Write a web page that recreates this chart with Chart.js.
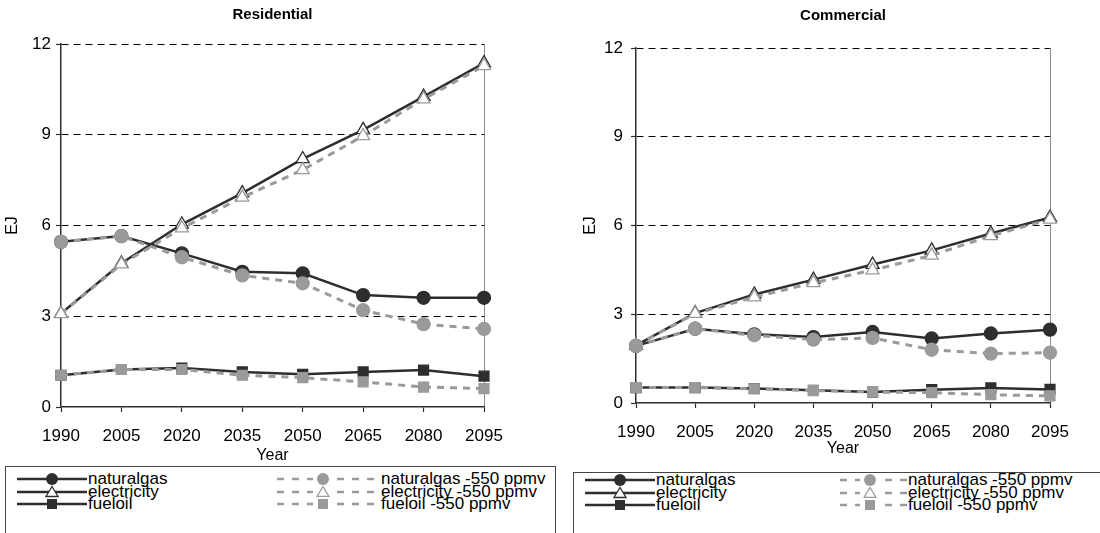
<!DOCTYPE html>
<html><head><meta charset="utf-8">
<script src="https://cdn.jsdelivr.net/npm/chart.js@4.4.1/dist/chart.umd.min.js"></script>
<style>
html,body{margin:0;padding:0;background:#fff;}
body{width:1100px;height:533px;overflow:hidden;position:relative;font-family:"Liberation Sans",Arial,sans-serif;color:#000;}
canvas{position:absolute;top:0;}
#cRes{left:0;}
#cCom{left:560px;}
.lbox{position:absolute;border:1px solid #444;background:#fff;box-sizing:border-box;}
.row{position:absolute;height:14px;font-size:17px;line-height:14px;white-space:nowrap;}
.row svg{position:absolute;top:0;}
.row span{position:absolute;top:0px;}
</style>
</head><body>
<canvas id="cRes" width="550" height="466"></canvas>
<canvas id="cCom" width="540" height="460"></canvas>
<div id="legRes" class="lbox" style="left:5px;top:466px;width:551px;height:80px;"></div>
<div id="legCom" class="lbox" style="left:573px;top:472px;width:560px;height:80px;"></div>
<script>
// ---- data ----
const years = ['1990','2005','2020','2035','2050','2065','2080','2095'];
const yTickValues = [0, 3, 6, 9, 12];
const seriesNames = ['naturalgas','electricity','fueloil'];
const scenarioSuffix = ' -550 ppmv';

const resNaturalgas     = [5.46, 5.65, 5.08, 4.47, 4.42, 3.70, 3.61, 3.61];
const resNaturalgas550  = [5.46, 5.65, 4.95, 4.35, 4.09, 3.20, 2.74, 2.58];
const resElectricity    = [3.09, 4.75, 6.04, 7.07, 8.20, 9.16, 10.26, 11.37];
const resElectricity550 = [3.08, 4.72, 5.91, 6.93, 7.84, 8.96, 10.18, 11.28];
const resFueloil        = [1.05, 1.24, 1.29, 1.16, 1.08, 1.16, 1.22, 1.02];
const resFueloil550     = [1.05, 1.24, 1.24, 1.05, 0.97, 0.83, 0.66, 0.61];

const comNaturalgas     = [1.93, 2.51, 2.32, 2.23, 2.40, 2.18, 2.35, 2.48];
const comNaturalgas550  = [1.93, 2.51, 2.29, 2.14, 2.20, 1.80, 1.67, 1.70];
const comElectricity    = [1.95, 3.04, 3.67, 4.17, 4.68, 5.16, 5.73, 6.27];
const comElectricity550 = [1.95, 3.02, 3.58, 4.06, 4.49, 4.99, 5.65, 6.21];
const comFueloil        = [0.52, 0.52, 0.49, 0.43, 0.37, 0.45, 0.51, 0.46];
const comFueloil550     = [0.52, 0.52, 0.48, 0.42, 0.37, 0.35, 0.28, 0.24];

// ---- styles ----
const DARK = '#2e2e2e', GRAY = '#9a9a9a', FONT = "'Liberation Sans', Arial, sans-serif";
const markers = {
  naturalgas: {pointStyle:'circle', radius:6.5, darkFill:DARK, grayFill:GRAY},
  electricity:{pointStyle:'triangle', radius:7.5, darkFill:'#ffffff', grayFill:'#ffffff'},
  fueloil:    {pointStyle:'rect', radius:7, darkFill:DARK, grayFill:GRAY}
};

function ds(label, data, key, scenario){
  const m = markers[key];
  const col = scenario ? GRAY : DARK;
  return {
    label: label, data: data,
    borderColor: col, backgroundColor: col,
    borderWidth: scenario ? 3 : 2.5,
    borderDash: scenario ? [7,6] : [],
    pointStyle: m.pointStyle, pointRadius: m.radius, pointHoverRadius: m.radius,
    pointBackgroundColor: scenario ? m.grayFill : m.darkFill,
    pointBorderColor: col, pointBorderWidth: 1.3,
    tension: 0, fill: false,
    order: scenario ? 0 : 1
  };
}

// title centred over the plot area
const plotTitle = {
  id: 'plotTitle',
  afterDraw(chart, args, opts) {
    const {ctx, chartArea} = chart;
    ctx.save();
    ctx.font = `bold ${opts.size}px ${FONT}`;
    ctx.fillStyle = '#000'; ctx.textAlign = 'center'; ctx.textBaseline = 'middle';
    ctx.fillText(opts.text, (chartArea.left + chartArea.right) / 2, opts.y);
    ctx.restore();
  }
};

function makeChart(id, title, sets, cfg){
  return new Chart(document.getElementById(id), {
    type: 'line',
    data: { labels: years, datasets: [
      ds(seriesNames[0], sets[0], 'naturalgas', false),
      ds(seriesNames[1], sets[2], 'electricity', false),
      ds(seriesNames[2], sets[4], 'fueloil', false),
      ds(seriesNames[0]+scenarioSuffix, sets[1], 'naturalgas', true),
      ds(seriesNames[1]+scenarioSuffix, sets[3], 'electricity', true),
      ds(seriesNames[2]+scenarioSuffix, sets[5], 'fueloil', true)
    ]},
    plugins: [plotTitle],
    options: {
      responsive: false, animation: false, events: [],
      layout: { padding: { left: 0, right: cfg.padRight, top: cfg.padTop, bottom: 0 } },
      plugins: {
        legend: { display: false }, tooltip: { enabled: false }, title: { display: false },
        plotTitle: { text: title, size: 15, y: cfg.titleY }
      },
      scales: {
        x: {
          offset: false,
          grid: { color: (c) => (c.index === years.length - 1 ? '#8a8a8a' : 'rgba(0,0,0,0)'),
                  lineWidth: 1, drawTicks: true, tickLength: 5, tickColor: DARK, tickWidth: 1.2 },
          border: { display: true, color: DARK, width: 1.5 },
          ticks: { color: '#000', font: { family: FONT, size: 17 }, padding: cfg.xTickPad,
                   maxRotation: 0, autoSkip: false },
          title: { display: true, text: 'Year', color: '#000', font: { family: FONT, size: 16 },
                   padding: { top: 0, bottom: cfg.yearPad } },
          afterFit: (s) => { s.height = cfg.xHeight; }
        },
        y: {
          min: 0, max: 12,
          afterBuildTicks: (s) => { s.ticks = yTickValues.map(v => ({ value: v })); },
          grid: { color: (c) => (c.tick && c.tick.value === 0 ? 'rgba(0,0,0,0)' : '#000'),
                  lineWidth: 1, drawTicks: true, tickLength: 5, tickColor: DARK, tickWidth: 1.2 },
          border: { display: true, color: DARK, width: 1.5, dash: [7,5] },
          ticks: { color: '#000', font: { family: FONT, size: 17 }, padding: cfg.yTickPad,
                   callback: (v) => String(v) },
          title: { display: true, text: 'EJ', color: '#000', font: { family: FONT, size: 16 },
                   padding: { top: cfg.ejPad, bottom: 0 } },
          afterFit: (s) => { s.width = cfg.yWidth; }
        }
      }
    }
  });
}

makeChart('cRes', 'Residential',
  [resNaturalgas, resNaturalgas550, resElectricity, resElectricity550, resFueloil, resFueloil550],
  { padRight: 66, padTop: 44, titleY: 15, xTickPad: 14, yearPad: 1, xHeight: 59, yTickPad: 5, ejPad: 3, yWidth: 61 });
makeChart('cCom', 'Commercial',
  [comNaturalgas, comNaturalgas550, comElectricity, comElectricity550, comFueloil, comFueloil550],
  { padRight: 50, padTop: 48, titleY: 16, xTickPad: 14, yearPad: 2, xHeight: 57, yTickPad: 8, ejPad: 21, yWidth: 76 });

// ---- HTML legend ----
function markerSvg(key, col){
  if (key === 'naturalgas') return `<circle cx="CX" cy="7" r="6" fill="${col}"/>`;
  if (key === 'electricity') return `<polygon points="CX,1.5 CXL,11.5 CXR,11.5" fill="#fff" stroke="${col}" stroke-width="1.3"/>`;
  return `<rect x="CXS" y="2" width="10" height="10" fill="${col}"/>`;
}
function placeMarker(s, cx){
  return s.replace(/CXL/g, cx-6).replace(/CXR/g, cx+6).replace(/CXS/g, cx-5).replace(/CX/g, cx);
}
function buildLegend(id, cols){
  const box = document.getElementById(id);
  seriesNames.forEach((name, i) => {
    const top = cols.rowTop + i * cols.rowGap;
    let r = document.createElement('div'); r.className = 'row';
    r.style.left = cols.c1 + 'px'; r.style.top = top + 'px'; r.style.width = '250px';
    r.innerHTML = `<svg width="${cols.w1}" height="14" style="left:0"><line x1="0" y1="7" x2="${cols.w1}" y2="7" stroke="${DARK}" stroke-width="2.5"/>${placeMarker(markerSvg(name, DARK), cols.w1/2)}</svg><span style="left:${cols.w1+1}px">${name}</span>`;
    box.appendChild(r);
    r = document.createElement('div'); r.className = 'row';
    r.style.left = cols.c2 + 'px'; r.style.top = top + 'px'; r.style.width = '300px';
    const mid = Math.round(cols.w2 * 0.45);
    r.innerHTML = `<svg width="${cols.w2}" height="14" style="left:0"><line x1="0" y1="7" x2="${cols.w2}" y2="7" stroke="${GRAY}" stroke-width="2.5" stroke-dasharray="7,8"/><rect x="${mid-10}" y="0" width="20" height="14" fill="#fff"/>${placeMarker(markerSvg(name, GRAY), mid)}</svg><span style="left:${cols.w2+1}px">${name}${scenarioSuffix}</span>`;
    box.appendChild(r);
  });
}
buildLegend('legRes', { c1: 11, w1: 70, c2: 271, w2: 103, rowTop: 5, rowGap: 12.5 });
buildLegend('legCom', { c1: 11, w1: 70, c2: 266, w2: 67, rowTop: 0, rowGap: 12.5 });
</script>
</body></html>
